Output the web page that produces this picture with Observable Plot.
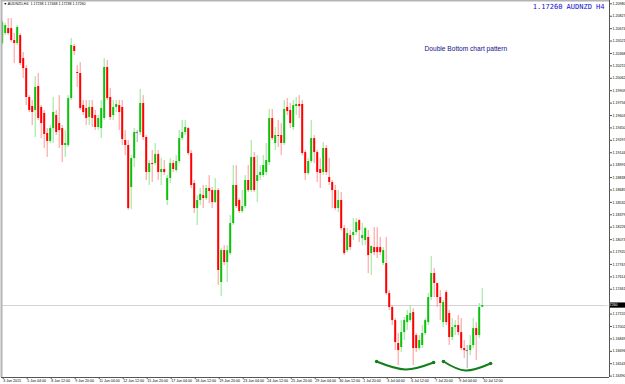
<!DOCTYPE html>
<html><head><meta charset="utf-8">
<script src="https://cdn.jsdelivr.net/npm/d3@7"></script>
<script src="https://cdn.jsdelivr.net/npm/@observablehq/plot@0.6"></script>
<style>
html,body{margin:0;padding:0;background:#fff;}
#chart{width:625px;height:384px;overflow:hidden;}
svg{display:block;}
</style></head><body><div id="chart"></div>
<script>
const opens=[
1.20491,1.20614,1.20675,1.20675,1.20528,1.20491,1.20589,1.20305,1.20182,1.19825,
1.19714,1.19665,1.19961,1.19702,1.19628,1.19381,1.19283,1.19442,1.19603,1.19504,
1.19442,1.19233,1.19233,1.19812,1.20454,1.20133,1.20121,1.19726,1.19689,1.19579,
1.19702,1.19603,1.19455,1.19442,1.19566,1.20195,1.19825,1.19603,1.19702,1.19726,
1.19702,1.19295,1.19233,1.18716,1.19072,1.19393,1.19393,1.19751,1.19332,1.18900,
1.19011,1.19011,1.19122,1.18900,1.18937,1.18555,1.18826,1.19011,1.18925,1.19036,
1.19319,1.19393,1.19442,1.19134,1.18765,1.18456,1.18555,1.18616,1.18579,1.18703,
1.18678,1.18530,1.18678,1.17544,1.17938,1.17790,1.17901,1.18271,1.18740,1.18555,
1.18420,1.18481,1.18802,1.18678,1.19085,1.18790,1.18863,1.18863,1.18900,1.19023,
1.19566,1.19258,1.19356,1.19356,1.19258,1.19702,1.19665,1.19455,1.19714,1.19739,
1.19739,1.19146,1.18888,1.19036,1.19319,1.19146,1.18937,1.18900,1.19196,1.18839,
1.18777,1.18678,1.18456,1.18555,1.18209,1.17938,1.18123,1.18123,1.18160,1.18308,
1.18086,1.18062,1.18099,1.17901,1.17975,1.17975,1.17975,1.17778,1.17778,1.17408,
1.17236,1.17075,1.16792,1.16742,1.16927,1.17050,1.17075,1.17174,1.16890,1.16730,
1.16767,1.16915,1.17050,1.17359,1.17655,1.17532,1.17359,1.17050,1.17420,1.17162,
1.16866,1.16989,1.17013,1.16927,1.16730,1.16705,1.16705,1.16767,1.16976,1.16890,
1.17238];
const highs=[
1.20774,1.20737,1.20799,1.20799,1.20614,1.20712,1.20614,1.20379,1.20219,1.19849,
1.19788,1.20084,1.20121,1.19726,1.19665,1.19442,1.19479,1.19825,1.19665,1.19849,
1.19479,1.19418,1.19849,1.20552,1.20479,1.20219,1.20256,1.19788,1.19788,1.19788,
1.19788,1.19665,1.19603,1.19788,1.20305,1.20281,1.19936,1.19788,1.19788,1.19788,
1.19788,1.19418,1.19295,1.19109,1.19442,1.19418,1.19924,1.19849,1.19356,1.19048,
1.19171,1.19258,1.19171,1.19072,1.19048,1.18863,1.19072,1.19048,1.19109,1.19418,
1.19541,1.19541,1.19455,1.19171,1.18802,1.18616,1.18703,1.18740,1.18740,1.18863,
1.18716,1.18826,1.18703,1.17963,1.18000,1.18000,1.18370,1.18986,1.18986,1.18579,
1.18678,1.18863,1.18986,1.19295,1.19146,1.19109,1.18986,1.19109,1.19258,1.19677,
1.19677,1.19455,1.19541,1.19504,1.19788,1.19812,1.19751,1.19788,1.19825,1.19849,
1.19788,1.19171,1.19072,1.19541,1.19356,1.19171,1.19072,1.19270,1.19233,1.19072,
1.18802,1.18740,1.18678,1.18653,1.18246,1.18209,1.18185,1.18333,1.18333,1.18320,
1.18271,1.18222,1.18185,1.18000,1.18222,1.18222,1.18099,1.17975,1.18099,1.17445,
1.17260,1.17100,1.16915,1.17075,1.17112,1.17199,1.17260,1.17223,1.16915,1.16890,
1.17013,1.17100,1.17408,1.17864,1.17716,1.17532,1.17445,1.17322,1.17445,1.17199,
1.17100,1.17075,1.17137,1.17100,1.16829,1.16767,1.16890,1.17100,1.17050,1.17285,
1.17468];
const lows=[
1.20466,1.20589,1.20589,1.20503,1.20244,1.20466,1.20219,1.20059,1.19726,1.19640,
1.19479,1.19332,1.19541,1.19319,1.19196,1.19085,1.19258,1.19258,1.19356,1.19196,
1.19023,1.19085,1.19209,1.19788,1.20342,1.19949,1.19665,1.19603,1.19479,1.19479,
1.19455,1.19418,1.19418,1.19319,1.19541,1.19788,1.19541,1.19541,1.19640,1.19418,
1.19233,1.19109,1.18432,1.18444,1.18962,1.19270,1.19356,1.19295,1.18802,1.18740,
1.18777,1.18986,1.18802,1.18740,1.18863,1.18493,1.18765,1.18900,1.18900,1.19011,
1.19295,1.19356,1.19109,1.18703,1.18395,1.18246,1.18493,1.18456,1.18555,1.18518,
1.18456,1.18518,1.17507,1.17371,1.17753,1.17544,1.17876,1.18246,1.18456,1.18395,
1.18395,1.18456,1.18653,1.18653,1.18653,1.18530,1.18802,1.18839,1.18863,1.18986,
1.19295,1.19171,1.19209,1.19109,1.19233,1.19603,1.19442,1.19418,1.19603,1.19566,
1.19109,1.18802,1.18863,1.19011,1.19011,1.18777,1.18703,1.18863,1.18863,1.18740,
1.18456,1.18432,1.18407,1.18185,1.17876,1.17913,1.17938,1.18062,1.18123,1.18037,
1.18000,1.18000,1.17655,1.17630,1.17876,1.17839,1.17876,1.17753,1.17383,1.17199,
1.17013,1.16705,1.16520,1.16680,1.16829,1.16952,1.17050,1.16520,1.16680,1.16705,
1.16730,1.16890,1.17013,1.17322,1.17359,1.17236,1.17075,1.16989,1.17013,1.16767,
1.16829,1.16890,1.16890,1.16705,1.16606,1.16483,1.16644,1.16730,1.16582,1.16853,
1.17238];
const closes=[
1.20749,1.20712,1.20614,1.20528,1.20491,1.20688,1.20244,1.20182,1.19825,1.19665,
1.19640,1.19949,1.19566,1.19504,1.19369,1.19283,1.19442,1.19640,1.19393,1.19418,
1.19233,1.19258,1.19812,1.20466,1.20392,1.20121,1.19689,1.19640,1.19566,1.19702,
1.19566,1.19455,1.19566,1.19689,1.20195,1.19812,1.19579,1.19702,1.19739,1.19640,
1.19307,1.19233,1.18456,1.19072,1.19393,1.19393,1.19751,1.19332,1.18900,1.19011,
1.18999,1.19122,1.18900,1.18937,1.18900,1.18826,1.19011,1.18937,1.19036,1.19319,
1.19393,1.19455,1.19134,1.18740,1.18456,1.18555,1.18629,1.18579,1.18703,1.18666,
1.18530,1.18678,1.17692,1.17938,1.17790,1.17938,1.18271,1.18740,1.18481,1.18420,
1.18481,1.18802,1.18678,1.19085,1.18678,1.18863,1.18900,1.18986,1.19048,1.19566,
1.19319,1.19356,1.19344,1.19258,1.19677,1.19653,1.19504,1.19726,1.19739,1.19714,
1.19134,1.18888,1.19036,1.19319,1.19146,1.18900,1.18888,1.19196,1.18900,1.18777,
1.18678,1.18456,1.18555,1.18209,1.17901,1.18148,1.17975,1.18160,1.18283,1.18185,
1.18123,1.18209,1.17876,1.17987,1.17913,1.17913,1.17913,1.17938,1.17408,1.17236,
1.17075,1.16804,1.16705,1.16927,1.17075,1.17137,1.17162,1.16730,1.16730,1.16829,
1.16915,1.17075,1.17359,1.17655,1.17532,1.17359,1.17285,1.17297,1.17050,1.16866,
1.16989,1.17013,1.16927,1.16730,1.16705,1.16705,1.16767,1.16976,1.16890,1.17236,
1.17260];

const xTickBars=[0,8,16,24,32,40,48,56,64,72,80,88,96,104,112,120,128,136,144,152,160];
const xTickLabels=["3 Jun 2015","5 Jun 04:00","8 Jun 12:00","9 Jun 20:00","11 Jun 04:00","12 Jun 12:00","15 Jun 20:00","17 Jun 04:00","18 Jun 12:00","19 Jun 20:00","23 Jun 04:00","24 Jun 12:00","25 Jun 20:00","29 Jun 04:00","30 Jun 12:00","1 Jul 20:00","3 Jul 04:00","6 Jul 12:00","7 Jul 20:00","9 Jul 04:00","10 Jul 12:00"];
const yTicks=[1.20980,1.20827,1.20674,1.20521,1.20368,1.20215,1.20062,1.19909,1.19756,1.19603,1.19450,1.19297,1.19144,1.18991,1.18838,1.18685,1.18532,1.18379,1.18226,1.18073,1.17920,1.17767,1.17614,1.17461,1.17155,1.17002,1.16849,1.16696,1.16543,1.16390];

const symbol="AUDNZD";
const lastPrice=1.17260;
const headerText="\u25BC AUDNZD,H4  1.17238 1.17468 1.17238 1.17260";
const titleText="1.17260 AUDNZD H4";
const noteText="Double Bottom chart pattern";
const noteAt={bar:140.8, price:1.20426};
const arc1Bars=[124.8,134.4,143.8], arc1Prices=[1.16570,1.16472,1.16558];
const arc2Bars=[147.1,154.4,162.8], arc2Prices=[1.16570,1.16459,1.16546];

const xDomain=[-0.233,202.43];
const yDomain=[1.16373,1.21021];

const bars=opens.map((o,i)=>({i,o,h:highs[i],l:lows[i],c:closes[i]}));
const up=bars.filter(d=>d.c>d.o), dn=bars.filter(d=>d.c<d.o), dj=bars.filter(d=>d.c===d.o);
const arc1=arc1Bars.map((b,k)=>({b,p:arc1Prices[k]}));
const arc2=arc2Bars.map((b,k)=>({b,p:arc2Prices[k]}));

const W=625,H=384,mL=1,mR=16,mT=0,mB=7;
const tickFont="3.6px";

const svg=Plot.plot({
  width:W,height:H,marginLeft:mL,marginRight:mR,marginTop:mT,marginBottom:mB,
  style:{background:"#fff",fontFamily:"'Liberation Sans',Arial,sans-serif",color:"#000"},
  x:{domain:xDomain,axis:null},
  y:{domain:yDomain,axis:null},
  marks:[
    Plot.ruleY([lastPrice],{stroke:"#d2d2d2",strokeWidth:1}),
    Plot.ruleX(up,{x:"i",y1:"l",y2:"h",stroke:"#92e692",strokeWidth:1}),
    Plot.ruleX(dn,{x:"i",y1:"l",y2:"h",stroke:"#ff9696",strokeWidth:1}),
    Plot.ruleX(dj,{x:"i",y1:"l",y2:"h",stroke:"#aaaaaa",strokeWidth:1}),
    Plot.ruleX(up,{x:"i",y1:"o",y2:"c",stroke:"#0cc00c",strokeWidth:2}),
    Plot.ruleX(dn,{x:"i",y1:"o",y2:"c",stroke:"#ff0000",strokeWidth:2}),
    Plot.ruleY(dj,{y:"c",x1:d=>d.i-0.4,x2:d=>d.i+0.4,stroke:"#777",strokeWidth:1}),
    Plot.line(arc1,{x:"b",y:"p",curve:"natural",stroke:"#12801a",strokeWidth:2}),
    Plot.line(arc2,{x:"b",y:"p",curve:"natural",stroke:"#12801a",strokeWidth:2}),
    Plot.dot([arc1[0],arc1[2],arc2[0],arc2[2]],{x:"b",y:"p",r:1.8,fill:"#12801a",stroke:null}),
    Plot.text([noteText],{x:()=>noteAt.bar,y:()=>noteAt.price,text:d=>d,textAnchor:"start",fontSize:6.6,fill:"#101088"}),
    Plot.text([titleText],{frameAnchor:"top-right",text:d=>d,textAnchor:"end",dx:-5,dy:4,fontSize:7,fill:"#1010d0",fontFamily:"'DejaVu Sans Mono',monospace"}),
    Plot.text([headerText],{frameAnchor:"top-left",text:d=>d,textAnchor:"start",dx:2,dy:2,fontSize:3.6,fill:"#000"}),
    Plot.ruleX([xDomain[0]],{stroke:"#b4b4b4",strokeWidth:2}),
    Plot.ruleY([yDomain[1]],{stroke:"#b4b4b4",strokeWidth:2}),
    Plot.ruleX([xDomain[1]],{stroke:"#555",strokeWidth:1}),
    Plot.ruleY([yDomain[0]],{stroke:"#555",strokeWidth:1}),
    Plot.axisY({anchor:"right",ticks:yTicks,tickFormat:d3.format(".5f"),tickSize:2,tickPadding:1,fontSize:tickFont,stroke:"#555"}),
    Plot.axisX({anchor:"bottom",ticks:xTickBars,tickFormat:(d)=>xTickLabels[xTickBars.indexOf(d)],tickSize:2,tickPadding:0,textAnchor:"start",dx:1,fontSize:tickFont,stroke:"#555"})
  ]
});

const yScale=svg.scale("y");
const py=yScale.apply(lastPrice);
const g=d3.select(svg).append("g");
g.append("rect").attr("x",W-mR+1).attr("y",py-2.6).attr("width",mR-1).attr("height",5.2).attr("fill","#000");
g.append("text").attr("x",W-mR+2).attr("y",py).attr("dy","0.35em").attr("font-size",tickFont).attr("fill","#fff").text(d3.format(".5f")(lastPrice));

document.getElementById("chart").appendChild(svg);
</script>
</body></html>
